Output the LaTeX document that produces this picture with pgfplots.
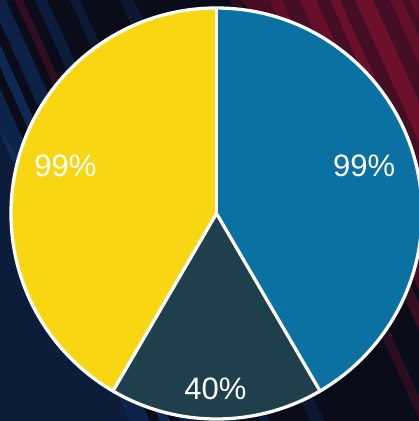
\documentclass[border=0pt]{standalone}
\usepackage{pgfplots}
\pgfplotsset{compat=1.18}
\usepackage{pgfplotstable}
\usepackage{fontspec}
\setmainfont{Liberation Sans}
\definecolor{bgdark}{HTML}{0A0C1A}
\definecolor{bgred}{HTML}{8E1232}
\definecolor{bgblue}{HTML}{123A7A}
\definecolor{sblue}{HTML}{0B71A3}
\definecolor{sdark}{HTML}{1E3F4B}
\definecolor{syellow}{HTML}{F8D712}
\pgfplotstableread{
label value
A 99
B 40
C 99
}\piedata
\pgfplotstablegetelem{0}{value}\of\piedata \let\va\pgfplotsretval
\pgfplotstablegetelem{1}{value}\of\piedata \let\vb\pgfplotsretval
\pgfplotstablegetelem{2}{value}\of\piedata \let\vc\pgfplotsretval
\begin{document}
\begin{tikzpicture}[x=1bp,y=1bp]
\clip (0,0) rectangle (419,421);
% background
\fill[bgdark] (0,0) rectangle (419,421);
\fill[bgred,opacity=0.45] (240,421) -- (419,421) -- (419,130) -- (340,310) -- cycle;
\fill[bgblue,opacity=0.35] (0,290) -- (0,0) -- (130,0) -- (30,250) -- cycle;
\foreach \x/\c/\o/\w in {-60/bgblue/0.5/20, -30/bgblue/0.6/10, -10/bgblue/0.45/16, 15/bgred/0.3/8, 35/bgblue/0.35/12, 70/bgblue/0.3/10, 120/bgblue/0.25/14, 230/bgred/0.25/10, 270/bgred/0.35/12, 300/bgred/0.45/16, 330/bgred/0.5/10, 355/bgred/0.55/18, 390/bgred/0.4/12, 410/bgred/0.35/10}{
  \fill[\c,opacity=\o] (\x,421) -- (\x+\w,421) -- (\x+\w+190,0) -- (\x+190,0) -- cycle;
}
\begin{axis}[
  at={(11bp,2bp)}, anchor=south west,
  scale only axis, width=411bp, height=411bp,
  xmin=-1, xmax=1, ymin=-1, ymax=1,
  hide axis, clip=false,
]
\pgfmathsetmacro{\tot}{\va+\vb+\vc}
\pgfmathsetmacro{\aA}{90}
\pgfmathsetmacro{\aB}{90-\va/\tot*360}
\pgfmathsetmacro{\aC}{\aB-\vb/\tot*360}
\pgfmathsetmacro{\aD}{\aC-\vc/\tot*360}
\fill[sblue] (axis cs:0,0) -- (axis cs:{cos(\aA)},{sin(\aA)}) arc[start angle=\aA, end angle=\aB, radius=205.5bp] -- cycle;
\fill[sdark] (axis cs:0,0) -- (axis cs:{cos(\aB)},{sin(\aB)}) arc[start angle=\aB, end angle=\aC, radius=205.5bp] -- cycle;
\fill[syellow] (axis cs:0,0) -- (axis cs:{cos(\aC)},{sin(\aC)}) arc[start angle=\aC, end angle=\aD, radius=205.5bp] -- cycle;
\draw[white, line width=3.3bp, line join=round] (axis cs:0,0) -- (axis cs:{cos(\aA)},{sin(\aA)});
\draw[white, line width=3.3bp, line join=round] (axis cs:0,0) -- (axis cs:{cos(\aB)},{sin(\aB)});
\draw[white, line width=3.3bp, line join=round] (axis cs:0,0) -- (axis cs:{cos(\aC)},{sin(\aC)});
\draw[white, line width=3.3bp] (axis cs:0,0) circle[radius=205.5bp];
\node[anchor=base, text=white, font=\fontsize{31bp}{31bp}\selectfont] at (axis cs:0.718,0.178) {99\%};
\node[anchor=base, text=white, font=\fontsize{31bp}{31bp}\selectfont] at (axis cs:-0.735,0.178) {99\%};
\node[anchor=base, text=white, font=\fontsize{31bp}{31bp}\selectfont] at (axis cs:-0.005,-0.903) {40\%};
\end{axis}
\end{tikzpicture}
\end{document}
